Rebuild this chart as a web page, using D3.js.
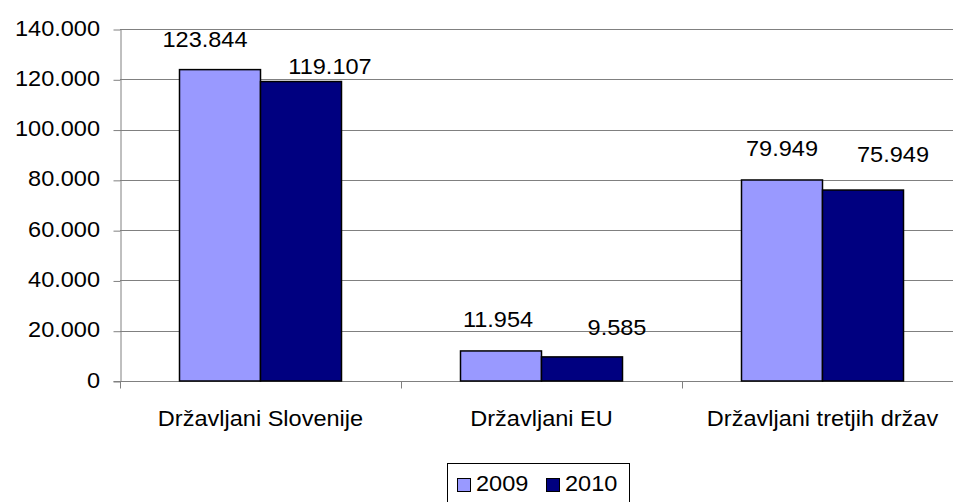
<!DOCTYPE html>
<html><head><meta charset="utf-8">
<script src="https://cdn.jsdelivr.net/npm/d3@7"></script>
<style>body{margin:0;background:#fff;}svg{display:block;font-family:"Liberation Sans",Arial,sans-serif;}</style>
</head><body>
<script>
const categories = ["Državljani Slovenije", "Državljani EU", "Državljani tretjih držav"];
const seriesNames = ["2009", "2010"];
const values2009 = [123844, 11954, 79949];
const values2010 = [119107, 9585, 75949];
const yTicks = [0, 20000, 40000, 60000, 80000, 100000, 120000, 140000];
const colors = ["#9999ff", "#000080"];

const W = 953, H = 502;
const FS = 22, SX = 1.07;
const svg = d3.select("body").append("svg").attr("width", W).attr("height", H);
const pLeft = 120, pRight = 963, pTop = 29, pBottom = 381;

const x = d3.scaleBand().domain(categories).range([pLeft, pRight]);
const y = d3.scaleLinear().domain([0, 140000]).range([pBottom, pTop]);
const fmt = v => v === 0 ? "0" : d3.format(",")(v).replace(/,/g, ".");

function label(g, tx, ty, str, anchor) {
  g.append("text")
    .attr("transform", `translate(${tx},${ty}) scale(${SX},1)`)
    .attr("text-anchor", anchor || "middle")
    .attr("font-size", FS).attr("fill", "#000").text(str);
}

// gridlines
svg.append("g").selectAll("line").data(yTicks.filter(d => d > 0)).join("line")
  .attr("x1", pLeft).attr("x2", pRight).attr("y1", d => Math.round(y(d)) + 0.5).attr("y2", d => Math.round(y(d)) + 0.5)
  .attr("stroke", "#808080").attr("stroke-width", 1);

// y axis
const yAxis = svg.append("g").attr("transform", `translate(${pLeft + 0.5},0.5)`)
  .call(d3.axisLeft(y).tickValues(yTicks).tickFormat("").tickSize(7).tickSizeOuter(0));
yAxis.select(".domain").attr("stroke", "#808080");
yAxis.selectAll(".tick line").attr("stroke", "#808080");
const yl = svg.append("g");
yTicks.forEach(t => label(yl, 100, y(t) + 6.5, fmt(t), "end"));

// x axis
const xAxis = svg.append("g").attr("transform", `translate(0.5,${pBottom + 0.5})`);
xAxis.append("line").attr("x1", pLeft - 7).attr("x2", pRight).attr("stroke", "#808080");
const bounds = categories.map(c => x(c)).concat([pRight]);
xAxis.selectAll(".ct").data(bounds).join("line").attr("class", "ct")
  .attr("x1", d => d).attr("x2", d => d).attr("y1", 0).attr("y2", 7).attr("stroke", "#808080");
const xl = svg.append("g");
categories.forEach(c => label(xl, x(c) + x.bandwidth() / 2, 426, c));

// bars
const barW = 81;
const data = [];
categories.forEach((c, i) => {
  [values2009[i], values2010[i]].forEach((v, s) => data.push({c, v, s, i}));
});
const bx = d => x(d.c) + x.bandwidth() / 2 - barW + d.s * barW;
svg.append("g").selectAll("rect").data(data).join("rect")
  .attr("x", bx).attr("width", barW)
  .attr("y", d => y(d.v)).attr("height", d => y(0) - y(d.v))
  .attr("fill", d => colors[d.s]).attr("stroke", "#000").attr("stroke-width", 1.5);

// value labels (manually nudged placement as in the original)
const nudge = [[-15, -23], [29, -8], [-3, -24], [35, -22], [0, -24], [30, -28]];
const vl = svg.append("g");
data.forEach((d, k) => label(vl, bx(d) + barW / 2 + nudge[k][0], y(d.v) + nudge[k][1], fmt(d.v)));

// legend
const lg = svg.append("g");
lg.append("rect").attr("x", 447.5).attr("y", 463.5).attr("width", 182).attr("height", 44)
  .attr("fill", "#fff").attr("stroke", "#000");
seriesNames.forEach((n, i) => {
  const ox = 457 + i * 89;
  lg.append("rect").attr("x", ox + 0.5).attr("y", 478.5).attr("width", 13).attr("height", 13)
    .attr("fill", colors[i]).attr("stroke", "#000");
  label(lg, ox + 19, 491, n, "start");
});
</script>
</body></html>
